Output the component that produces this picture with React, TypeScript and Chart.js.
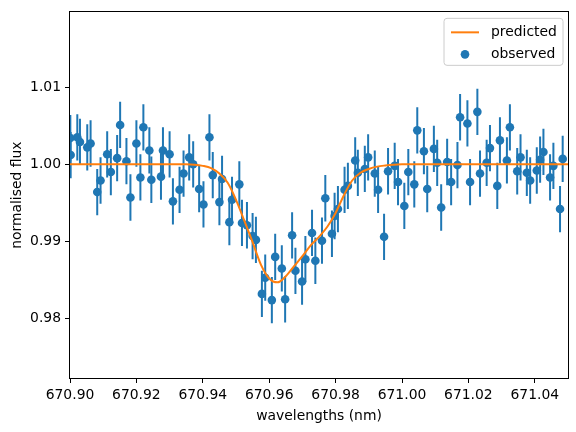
import React, { useEffect, useRef } from "react";
import { Chart, registerables } from "chart.js";

Chart.register(...registerables);

// Observed data (wavelength nm, normalised flux), error ±0.003
const obsWave = [
  670.9001, 670.9002, 670.9022, 670.903, 670.9052, 670.9062, 670.9082, 670.9092, 670.9112, 670.9123,
  670.9142, 670.9151, 670.917, 670.9182, 670.92, 670.9212, 670.9221, 670.9239, 670.9245, 670.9274,
  670.928, 670.93, 670.931, 670.933, 670.9342, 670.9359, 670.9371, 670.9389, 670.9402, 670.942,
  670.943, 670.945, 670.9458, 670.948, 670.9488, 670.951, 670.9518, 670.9533, 670.955, 670.956,
  670.9578, 670.9588, 670.9608, 670.9618, 670.9638, 670.9648, 670.9669, 670.9679, 670.9699, 670.9709,
  670.9729, 670.9739, 670.9759, 670.9769, 670.9789, 670.9797, 670.9807, 670.9827, 670.9837, 670.9859,
  670.9867, 670.9888, 670.9898, 670.9918, 670.9928, 670.9946, 670.9958, 670.9978, 670.9988, 671.0007,
  671.0019, 671.0037, 671.0046, 671.0066, 671.0076, 671.0096, 671.0106, 671.0118, 671.0136, 671.0148,
  671.0167, 671.0175, 671.0197, 671.0205, 671.0227, 671.0235, 671.0255, 671.0265, 671.0287, 671.0295,
  671.0316, 671.0325, 671.0347, 671.0357, 671.0376, 671.0386, 671.0406, 671.0416, 671.0426, 671.0446,
  671.0456, 671.0476, 671.0484,
];
const obsFlux = [
  1.0034, 1.0012, 1.0035, 1.0029, 1.0022, 1.0027, 0.9964, 0.9979, 1.0013, 0.999,
  1.0008, 1.0051, 1.0004, 0.9957, 1.0027, 0.9983, 1.0048, 1.0018, 0.998, 0.9984,
  1.0018, 1.0013, 0.9952, 0.9967, 0.9988, 1.0009, 1.0, 0.9968, 0.9948, 1.0035,
  0.9986, 0.9951, 0.9981, 0.9925, 0.9954, 0.9974, 0.9924, 0.9921, 0.9907, 0.9902,
  0.9832, 0.9853, 0.9824, 0.988, 0.9865, 0.9825, 0.9908, 0.9862, 0.9848, 0.9877,
  0.9911, 0.9875, 0.9901, 0.9956, 0.991, 0.9933, 0.9942, 0.9967, 0.9972, 1.0005,
  0.9989, 0.9994, 1.0009, 0.9988, 0.9967, 0.9906, 0.9991, 0.9998, 0.9977, 0.9946,
  0.999, 0.9974, 1.0044, 1.0017, 0.9968, 1.002, 1.0002, 0.9944, 1.0003, 0.9977,
  0.9999, 1.0061, 1.0053, 0.9977, 1.0068, 0.9988, 1.0002, 1.0021, 0.9972, 1.0031,
  1.0005, 1.0048, 0.9991, 1.0009, 0.9989, 0.9979, 0.9992, 1.0006, 1.0016, 0.9983,
  0.9998, 0.9942, 1.0007,
];
const obsErr = 0.003;

// Predicted model curve
const predWave = [
  670.9, 670.91, 670.92, 670.93, 670.935, 670.9375, 670.94, 670.9425, 670.945, 670.9475,
  670.95, 670.9525, 670.955, 670.9575, 670.96, 670.9625, 670.965, 670.9675, 670.97, 670.9725,
  670.975, 670.9775, 670.98, 670.9825, 670.985, 670.9875, 670.99, 670.9925, 670.995, 670.9975,
  671.0, 671.01, 671.02, 671.03, 671.04, 671.05,
];
const predFlux = [
  1.0, 1.0, 1.0, 1.0, 1.0, 0.99995, 0.9998, 0.9995, 0.9988, 0.9976,
  0.9954, 0.9927, 0.9899, 0.987, 0.9852, 0.9847, 0.9855, 0.9868, 0.9881, 0.9895,
  0.9906, 0.9919, 0.9937, 0.996, 0.9979, 0.9989, 0.9994, 0.9997, 0.99985, 0.99995,
  1.0, 1.0, 1.0, 1.0, 1.0, 1.0,
];

const xTicks = [670.9, 670.92, 670.94, 670.96, 670.98, 671.0, 671.02, 671.04];
const yTicks = [0.98, 0.99, 1.0, 1.01];

const FONT = "'DejaVu Sans', sans-serif";
const FS = 13.9;
const BLUE = "#1f77b4";
const ORANGE = "#ff7f0e";

const errorBars = {
  id: "errorBars",
  beforeDatasetsDraw(chart: any) {
    const { ctx, chartArea, scales } = chart;
    const xs = scales.x;
    const ys = scales.y;
    ctx.save();
    ctx.beginPath();
    ctx.rect(chartArea.left, chartArea.top, chartArea.right - chartArea.left, chartArea.bottom - chartArea.top);
    ctx.clip();
    ctx.strokeStyle = BLUE;
    ctx.lineWidth = 2;
    for (let i = 0; i < obsWave.length; i++) {
      const px = xs.getPixelForValue(obsWave[i]);
      const y1 = ys.getPixelForValue(obsFlux[i] - obsErr);
      const y2 = ys.getPixelForValue(obsFlux[i] + obsErr);
      ctx.beginPath();
      ctx.moveTo(px, y1);
      ctx.lineTo(px, y2);
      ctx.stroke();
    }
    ctx.restore();
  },
};

const frame = {
  id: "frame",
  afterDraw(chart: any) {
    const { ctx, chartArea } = chart;
    ctx.save();
    ctx.strokeStyle = "#000";
    ctx.lineWidth = 1;
    ctx.strokeRect(
      Math.round(chartArea.left) - 0.5,
      Math.round(chartArea.top) - 0.5,
      Math.round(chartArea.right - chartArea.left) + 1,
      Math.round(chartArea.bottom - chartArea.top) + 1
    );
    ctx.restore();
  },
};

const legendBox = {
  id: "legendBox",
  afterDraw(chart: any) {
    const { ctx, chartArea } = chart;
    const ds = chart.data.datasets;
    const w = 119;
    const h = 47;
    const x = chartArea.right - 5 - w;
    const y = chartArea.top + 6;
    const r = 3;
    ctx.save();
    ctx.beginPath();
    ctx.moveTo(x + r, y);
    ctx.lineTo(x + w - r, y);
    ctx.quadraticCurveTo(x + w, y, x + w, y + r);
    ctx.lineTo(x + w, y + h - r);
    ctx.quadraticCurveTo(x + w, y + h, x + w - r, y + h);
    ctx.lineTo(x + r, y + h);
    ctx.quadraticCurveTo(x, y + h, x, y + h - r);
    ctx.lineTo(x, y + r);
    ctx.quadraticCurveTo(x, y, x + r, y);
    ctx.closePath();
    ctx.fillStyle = "rgba(255,255,255,0.8)";
    ctx.fill();
    ctx.strokeStyle = "#cccccc";
    ctx.lineWidth = 1;
    ctx.stroke();

    const row1 = y + 14;
    const row2 = y + 36;
    ctx.strokeStyle = ds[0].borderColor;
    ctx.lineWidth = 2;
    ctx.beginPath();
    ctx.moveTo(x + 7, row1);
    ctx.lineTo(x + 35, row1);
    ctx.stroke();

    ctx.fillStyle = ds[1].backgroundColor;
    ctx.beginPath();
    ctx.arc(x + 21, row2, 4.3, 0, Math.PI * 2);
    ctx.fill();

    ctx.fillStyle = "#000";
    ctx.font = `${FS}px ${FONT}`;
    ctx.textBaseline = "middle";
    ctx.textAlign = "left";
    ctx.fillText(ds[0].label, x + 47, row1);
    ctx.fillText(ds[1].label, x + 47, row2);
    ctx.restore();
  },
};

export default function App() {
  const ref = useRef<HTMLCanvasElement | null>(null);
  useEffect(() => {
    if (!ref.current) return;
    const chart = new Chart(ref.current, {
      type: "scatter",
      data: {
        datasets: [
          {
            type: "line",
            label: "predicted",
            data: predWave.map((x, i) => ({ x, y: predFlux[i] })),
            borderColor: ORANGE,
            backgroundColor: ORANGE,
            borderWidth: 2,
            pointRadius: 0,
            cubicInterpolationMode: "monotone",
            order: 0,
          } as any,
          {
            type: "scatter",
            label: "observed",
            data: obsWave.map((x, i) => ({ x, y: obsFlux[i] })),
            backgroundColor: BLUE,
            borderColor: BLUE,
            pointRadius: 4.3,
            pointBorderWidth: 0,
            order: 1,
          } as any,
        ],
      },
      options: {
        responsive: false,
        animation: false,
        devicePixelRatio: 1,
        layout: { padding: { left: 0, right: 8, top: 10, bottom: 0 } },
        plugins: {
          legend: { display: false },
          tooltip: { enabled: false },
        },
        scales: {
          x: {
            type: "linear",
            min: 670.9,
            max: 671.05,
            afterBuildTicks: (s: any) => {
              s.ticks = xTicks.map((v) => ({ value: v }));
            },
            afterFit: (s: any) => {
              s.height = 54;
            },
            grid: { display: true, drawOnChartArea: false, drawTicks: true, tickLength: 5, color: "#000" },
            border: { display: false },
            ticks: {
              color: "#000",
              padding: 4,
              maxRotation: 0,
              autoSkip: false,
              font: { family: FONT, size: FS },
              callback: (v: any) => Number(v).toFixed(2),
            },
            title: {
              display: true,
              text: "wavelengths (nm)",
              color: "#000",
              font: { family: FONT, size: FS },
              padding: { top: 0, bottom: 7 },
            },
          },
          y: {
            type: "linear",
            min: 0.9723,
            max: 1.0197,
            afterBuildTicks: (s: any) => {
              s.ticks = yTicks.map((v) => ({ value: v }));
            },
            afterFit: (s: any) => {
              s.width = 70;
            },
            grid: { display: true, drawOnChartArea: false, drawTicks: true, tickLength: 5, color: "#000" },
            border: { display: false },
            ticks: {
              color: "#000",
              padding: 4,
              autoSkip: false,
              font: { family: FONT, size: FS },
              callback: (v: any) => Number(v).toFixed(2),
            },
            title: {
              display: true,
              text: "normalised flux",
              color: "#000",
              font: { family: FONT, size: FS },
              padding: { top: 9, bottom: 0 },
            },
          },
        },
      },
      plugins: [errorBars, frame, legendBox],
    });
    return () => chart.destroy();
  }, []);
  return (
    <div style={{ position: "absolute", left: 0, top: 0, width: 576, height: 432, background: "#fff" }}>
      <canvas ref={ref} width={576} height={432} style={{ width: 576, height: 432 }} />
    </div>
  );
}
